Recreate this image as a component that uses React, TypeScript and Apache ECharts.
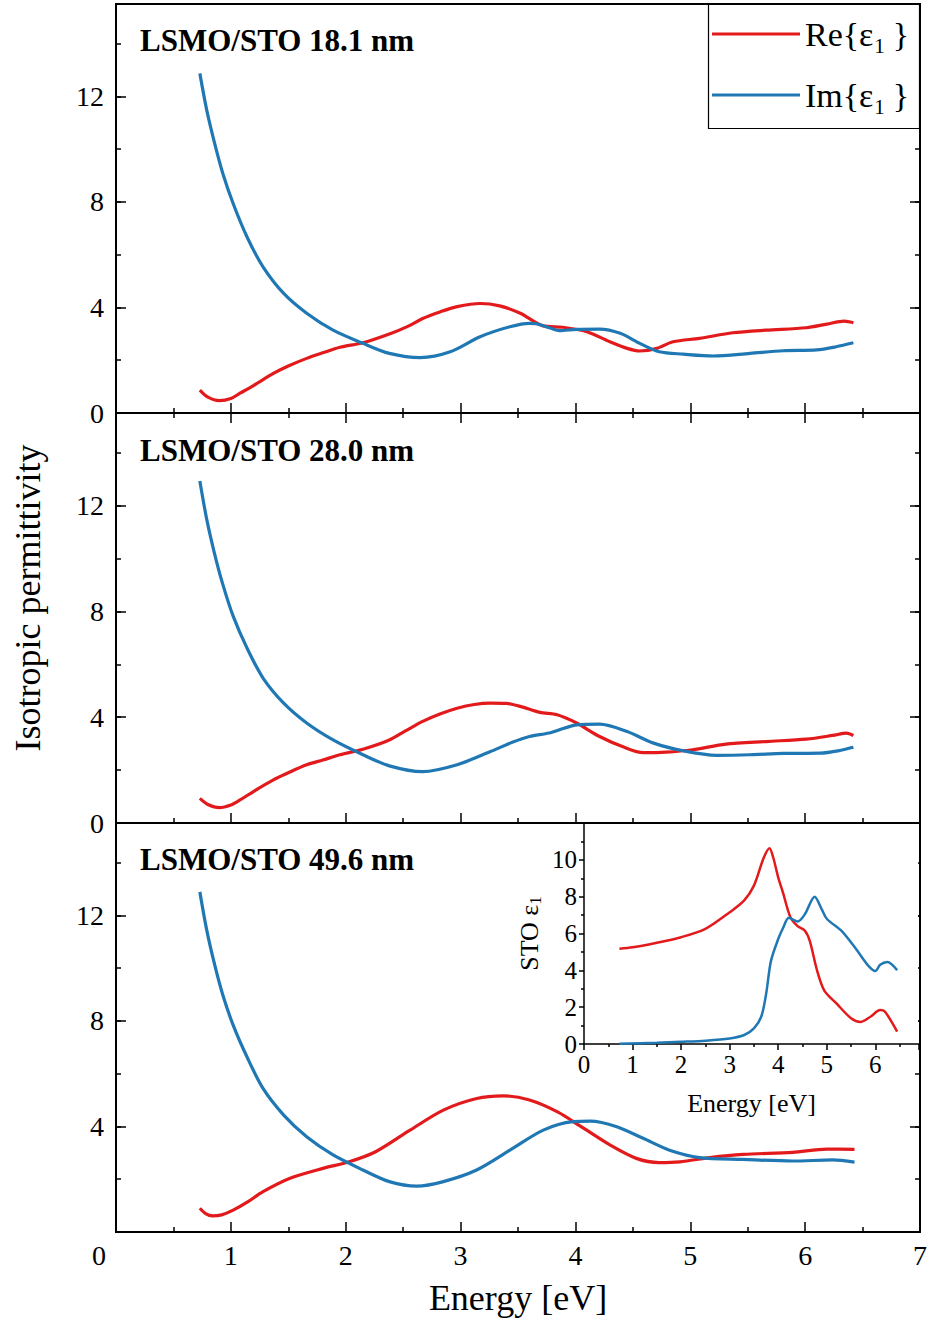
import React, { useEffect, useRef } from "react";
import * as echarts from "echarts";

const FONT = '"Liberation Serif", "Times New Roman", serif';
const RED = "#e31a1c";
const BLUE = "#1f78b4";

const panelTitles = ["LSMO/STO 18.1 nm", "LSMO/STO 28.0 nm", "LSMO/STO 49.6 nm"];
const seriesNames = ["Re", "Im"];

const re181: number[][] = [[0.73,0.87],[0.8,0.6],[0.9,0.47],[1.0,0.55],[1.08,0.75],[1.2,1.05],[1.37,1.5],[1.5,1.78],[1.66,2.07],[1.8,2.28],[1.95,2.49],[2.15,2.66],[2.38,2.99],[2.55,3.3],[2.67,3.58],[2.82,3.83],[2.97,4.03],[3.17,4.15],[3.34,4.06],[3.52,3.78],[3.72,3.3],[3.89,3.25],[4.1,3.08],[4.3,2.7],[4.45,2.45],[4.56,2.35],[4.71,2.45],[4.85,2.7],[5.08,2.83],[5.37,3.04],[5.66,3.14],[6.01,3.23],[6.19,3.37],[6.34,3.48],[6.42,3.42]];
const im181: number[][] = [[0.73,12.87],[0.79,11.48],[0.86,10.2],[0.93,9.08],[1.02,7.94],[1.14,6.68],[1.28,5.54],[1.46,4.53],[1.66,3.78],[1.89,3.14],[2.15,2.64],[2.38,2.26],[2.65,2.1],[2.91,2.32],[3.17,2.89],[3.43,3.27],[3.6,3.4],[3.66,3.38],[3.78,3.22],[3.86,3.12],[4.01,3.17],[4.21,3.18],[4.39,3.02],[4.56,2.64],[4.73,2.32],[4.94,2.23],[5.2,2.16],[5.52,2.26],[5.81,2.36],[6.1,2.39],[6.27,2.51],[6.42,2.66]];

const re280: number[][] = [[0.73,0.93],[0.8,0.7],[0.9,0.58],[1.0,0.68],[1.08,0.87],[1.2,1.2],[1.37,1.63],[1.5,1.9],[1.66,2.2],[1.8,2.38],[1.95,2.58],[2.15,2.79],[2.38,3.14],[2.52,3.48],[2.67,3.84],[2.82,4.12],[2.97,4.34],[3.12,4.48],[3.26,4.53],[3.4,4.52],[3.52,4.41],[3.69,4.18],[3.84,4.09],[4.01,3.78],[4.21,3.27],[4.42,2.87],[4.59,2.66],[4.79,2.68],[5.02,2.77],[5.31,2.98],[5.66,3.08],[6.01,3.17],[6.24,3.31],[6.36,3.4],[6.42,3.31]];
const im280: number[][] = [[0.73,12.93],[0.79,11.48],[0.86,10.15],[0.93,9.02],[1.02,7.82],[1.14,6.62],[1.28,5.48],[1.46,4.53],[1.66,3.78],[1.89,3.14],[2.15,2.58],[2.38,2.16],[2.67,1.94],[2.97,2.2],[3.26,2.7],[3.45,3.05],[3.6,3.27],[3.77,3.4],[3.9,3.58],[4.01,3.71],[4.21,3.74],[4.45,3.46],[4.68,3.02],[4.94,2.73],[5.23,2.56],[5.52,2.58],[5.81,2.63],[6.13,2.64],[6.3,2.74],[6.42,2.87]];

const re496: number[][] = [[0.73,0.9],[0.78,0.7],[0.84,0.61],[0.92,0.65],[1.02,0.83],[1.15,1.15],[1.28,1.53],[1.51,2.03],[1.8,2.41],[2.03,2.66],[2.26,3.04],[2.56,3.86],[2.85,4.62],[3.14,5.06],[3.37,5.16],[3.6,5.0],[3.84,4.56],[4.04,4.02],[4.3,3.3],[4.53,2.79],[4.73,2.63],[4.91,2.66],[5.17,2.82],[5.46,2.94],[5.89,3.02],[6.19,3.14],[6.43,3.13]];
const im496: number[][] = [[0.73,12.89],[0.79,11.44],[0.86,10.11],[0.93,8.98],[1.02,7.84],[1.14,6.64],[1.28,5.44],[1.46,4.43],[1.66,3.61],[1.89,2.92],[2.15,2.35],[2.38,1.91],[2.62,1.74],[2.85,1.91],[3.14,2.35],[3.43,3.1],[3.72,3.86],[3.98,4.18],[4.13,4.2],[4.36,3.99],[4.59,3.55],[4.82,3.1],[5.08,2.82],[5.46,2.75],[5.89,2.69],[6.24,2.73],[6.43,2.65]];

const stoRe: number[][] = [[0.73,5.17],[1.0,5.25],[1.5,5.5],[2.0,5.8],[2.5,6.25],[3.0,7.15],[3.3,7.8],[3.5,8.6],[3.7,10.1],[3.82,10.63],[3.9,10.1],[4.0,9.05],[4.1,8.2],[4.25,6.9],[4.4,6.4],[4.55,6.15],[4.65,5.6],[4.8,4.0],[4.95,2.9],[5.2,2.2],[5.5,1.4],[5.7,1.2],[5.9,1.48],[6.1,1.84],[6.2,1.75],[6.45,0.67]];
const stoIm: number[][] = [[0.73,0.02],[1.5,0.07],[2.0,0.12],[2.5,0.18],[3.0,0.3],[3.3,0.49],[3.5,0.85],[3.65,1.48],[3.75,2.7],[3.85,4.5],[4.0,5.7],[4.1,6.3],[4.22,6.85],[4.4,6.65],[4.55,7.05],[4.75,8.0],[4.9,7.3],[5.0,6.8],[5.3,6.15],[5.6,5.17],[5.85,4.27],[6.0,3.96],[6.1,4.3],[6.25,4.45],[6.45,4.0]];

const panels = [
  { re: re181, im: im181 },
  { re: re280, im: im280 },
  { re: re496, im: im496 },
];

const xTicks = [0, 1, 2, 3, 4, 5, 6, 7];
const yTicksMain = [0, 4, 8, 12];

export default function App() {
  const ref = useRef<HTMLDivElement>(null);
  useEffect(() => {
    if (!ref.current) return;
    const chart = echarts.init(ref.current, null, { renderer: "svg" });
    const tops = [4, 413, 823];
    const heights = [409, 410, 409];
    const black = { color: "#000", width: 1.5 };
    const labelStyle = { fontFamily: FONT, color: "#000" };

    const grid: any[] = tops.map((t, i) => ({
      left: 116, right: 14, top: t, height: heights[i],
      show: true, borderColor: "#000", borderWidth: 2, backgroundColor: "transparent",
    }));
    grid.push({ left: 584, top: 823, width: 335, height: 221, show: false });

    const xAxis: any[] = [];
    for (let i = 0; i < 3; i++) {
      xAxis.push({
        gridIndex: i, type: "value", min: xTicks[0], max: xTicks[xTicks.length - 1], interval: 1,
        position: "bottom",
        axisLine: { show: false },
        axisTick: { inside: true, length: 10, lineStyle: black },
        minorTick: { show: true, splitNumber: 2, length: 5, lineStyle: black },
        splitLine: { show: false },
        axisLabel: {
          show: i === 2, ...labelStyle, fontSize: 28, margin: 9,
          formatter: (v: number) => (v === 0 ? "" : String(v)),
        },
        name: i === 2 ? "Energy [eV]" : "",
        nameLocation: "middle", nameGap: 48,
        nameTextStyle: { ...labelStyle, fontSize: 36 },
      });
    }
    xAxis.push({
      gridIndex: 0, type: "value", min: 0, max: 7, interval: 1, position: "top",
      axisLine: { show: false },
      axisTick: { inside: true, length: 10, lineStyle: black },
      minorTick: { show: true, splitNumber: 2, length: 5, lineStyle: black },
      splitLine: { show: false }, axisLabel: { show: false },
    });
    xAxis.push({
      gridIndex: 3, type: "value", min: 0, max: 6.9, interval: 1, z: 3,
      axisLine: { show: true, onZero: false, lineStyle: black },
      axisTick: { inside: false, length: 6, lineStyle: black },
      minorTick: { show: true, splitNumber: 2, length: 3, lineStyle: black },
      splitLine: { show: false },
      axisLabel: { ...labelStyle, fontSize: 25, margin: 8, formatter: (v: number) => (Number.isInteger(v) ? String(v) : "") },
      name: "Energy [eV]", nameLocation: "middle", nameGap: 46,
      nameTextStyle: { ...labelStyle, fontSize: 26 },
    });

    const yAxis: any[] = [];
    for (let i = 0; i < 3; i++) {
      for (const pos of ["left", "right"]) {
        yAxis.push({
          gridIndex: i, type: "value", min: 0, max: 15.5, interval: 4, position: pos,
          axisLine: { show: false },
          axisTick: { inside: true, length: 10, lineStyle: black },
          splitLine: { show: false },
          axisLabel: {
            show: pos === "left", ...labelStyle, fontSize: 28, margin: 12,
            formatter: (v: number) =>
              yTicksMain.includes(v) && !(i === 2 && v === 0) ? String(v) : "",
          },
        });
        yAxis.push({
          gridIndex: i, type: "value", min: 0, max: 15.5, interval: 2, position: pos,
          axisLine: { show: false },
          axisTick: { inside: true, length: 5, lineStyle: black },
          splitLine: { show: false }, axisLabel: { show: false },
        });
      }
    }
    yAxis.push({
      gridIndex: 3, type: "value", min: 0, max: 12, interval: 2, z: 3,
      axisLine: { show: true, onZero: false, lineStyle: black },
      axisTick: { inside: false, length: 5, lineStyle: black },
      minorTick: { show: true, splitNumber: 2, length: 3, lineStyle: black },
      splitLine: { show: false },
      axisLabel: { ...labelStyle, fontSize: 25, margin: 7, formatter: (v: number) => (v < 12 ? String(v) : "") },
      name: "{a|STO ε}{s|1}", nameLocation: "middle", nameRotate: 90, nameGap: 40,
      nameTextStyle: {
        ...labelStyle, fontSize: 26,
        rich: {
          a: { fontFamily: FONT, fontSize: 26, color: "#000", lineHeight: 30 },
          s: { fontFamily: FONT, fontSize: 17, color: "#000", verticalAlign: "bottom", lineHeight: 30 },
        },
      },
    });

    const series: any[] = [];
    panels.forEach((p, i) => {
      series.push({ name: "Re", type: "line", xAxisIndex: i, yAxisIndex: 4 * i, data: p.re, showSymbol: false, smooth: 0.3, lineStyle: { color: RED, width: 3.2 }, itemStyle: { color: RED } });
      series.push({ name: "Im", type: "line", xAxisIndex: i, yAxisIndex: 4 * i, data: p.im, showSymbol: false, smooth: 0.3, lineStyle: { color: BLUE, width: 3.2 }, itemStyle: { color: BLUE } });
    });
    series.push({ name: "Re", type: "line", xAxisIndex: 4, yAxisIndex: 12, z: 4, data: stoRe, showSymbol: false, smooth: 0.3, lineStyle: { color: RED, width: 2.5 }, itemStyle: { color: RED } });
    series.push({ name: "Im", type: "line", xAxisIndex: 4, yAxisIndex: 12, z: 4, data: stoIm, showSymbol: false, smooth: 0.3, lineStyle: { color: BLUE, width: 2.5 }, itemStyle: { color: BLUE } });

    const graphic: any[] = [
      { type: "rect", z: 1, silent: true, shape: { x: 585, y: 825, width: 333, height: 218 }, style: { fill: "#fff" } },
      { type: "rect", z: 3, silent: true, shape: { x: 708.5, y: 4.5, width: 211, height: 124 }, style: { fill: "#fff", stroke: "#000", lineWidth: 1.2 } },
      ...panelTitles.map((t, i) => ({
        type: "text", z: 5, x: 140, y: [40, 450, 859][i],
        style: { text: t, fontFamily: FONT, fontWeight: "bold", fontSize: 31, fill: "#000", align: "left", verticalAlign: "middle" },
      })),
      {
        type: "text", z: 5, x: 28, y: 598, rotation: Math.PI / 2,
        style: { text: "Isotropic permittivity", fontFamily: FONT, fontSize: 36, fill: "#000", align: "center", verticalAlign: "middle" },
      },
      {
        type: "text", z: 5, x: 99, y: 1255,
        style: { text: "0", fontFamily: FONT, fontSize: 28, fill: "#000", align: "center", verticalAlign: "middle" },
      },
    ];

    chart.setOption({
      animation: false,
      backgroundColor: "#fff",
      grid, xAxis, yAxis, series, graphic,
      legend: {
        data: seriesNames, orient: "vertical", left: 708, top: 4, z: 6,
        padding: [8, 4, 10, 4], itemGap: 17, itemWidth: 88, itemHeight: 3, icon: "rect",
        textStyle: {
          fontFamily: FONT, fontSize: 34, color: "#000", lineHeight: 40,
          rich: { s: { fontFamily: FONT, fontSize: 21, color: "#000", verticalAlign: "bottom", lineHeight: 44, padding: [0, 8, 0, 1] } },
        },
        formatter: (name: string) => `${name}{ε{s|1}}`,
      },
    });
    return () => chart.dispose();
  }, []);
  return <div ref={ref} style={{ position: "absolute", left: 0, top: 0, width: 934, height: 1324 }} />;
}
